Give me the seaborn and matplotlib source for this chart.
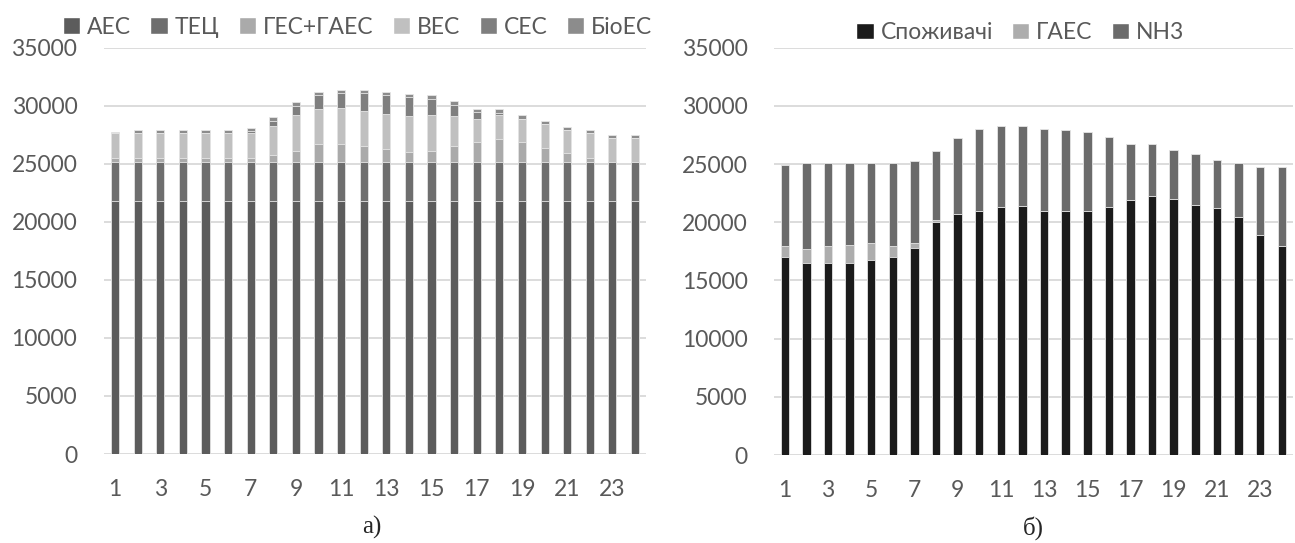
import numpy as np
import pandas as pd
import matplotlib
matplotlib.use("Agg")
import matplotlib.pyplot as plt
from matplotlib.patches import Patch
import seaborn as sns

# ==========================================
# DATA
# ==========================================
hours = list(range(1, 25))

# a) generation
aes = [21800] * 24
tec = [3400] * 24
ges = [350, 350, 350, 350, 350, 350, 350, 600, 950, 1490, 1550, 1380,
       1090, 860, 920, 1380, 1690, 1980, 1690, 1200, 720, 350, 0, 0]
wes = [2100, 2070, 2070, 2070, 2070, 2070, 2100, 2500, 3070, 3010, 3070, 3010,
       3010, 3070, 3100, 2550, 2010, 2040, 2010, 2040, 2040, 2100, 2010, 2010]
ses = [0, 0, 0, 0, 0, 0, 150, 420, 790, 1200, 1280, 1510,
       1610, 1610, 1410, 980, 545, 200, 0, 0, 0, 0, 0, 0]
bio = [90, 290, 290, 290, 290, 290, 310, 300, 300, 290, 300, 300,
       290, 260, 290, 290, 260, 290, 290, 230, 230, 260, 260, 260]

# б) consumption
consumers = [17000, 16500, 16500, 16500, 16800, 17000, 17800, 20000, 20700, 21000, 21300, 21400,
             21000, 21000, 21000, 21300, 21900, 22300, 22000, 21450, 21200, 20500, 18950, 18000]
gaes = [1000, 1250, 1430, 1510, 1430, 1000, 430, 230, 0, 0, 0, 0,
        0, 0, 0, 0, 0, 0, 0, 0, 0, 0, 0, 0]
totals_b = [24900, 25100, 25100, 25100, 25100, 25100, 25300, 26100, 27250, 28050, 28250, 28250,
            28050, 27900, 27800, 27350, 26700, 26700, 26250, 25850, 25350, 25100, 24750, 24750]
nh3 = [t - c - g for t, c, g in zip(totals_b, consumers, gaes)]

left_names = ['АЕС', 'ТЕЦ', 'ГЕС+ГАЕС', 'ВЕС', 'СЕС', 'БіоЕС']
left_colors = ['#5c5c5c', '#6e6e6e', '#aaaaaa', '#c0c0c0', '#7f7f7f', '#8c8c8c']
right_names = ['Споживачі', 'ГАЕС', 'NH3']
right_colors = ['#1b1b1b', '#adadad', '#6b6b6b']

# ==========================================
# PLOT
# ==========================================
sns.set_style("white")
plt.rcParams['font.family'] = ['Lato', 'DejaVu Sans']

fig = plt.figure(figsize=(12.95, 5.43), dpi=100)
ax1 = fig.add_axes([0.0801, 0.1639, 0.419, 0.748])
ax2 = fig.add_axes([0.5977, 0.1620, 0.4004, 0.750])


def stacked(ax, series, colors, width):
    df = pd.DataFrame(np.array(series).T, index=hours)
    cum = df.cumsum(axis=1)
    # draw from the top of the stack down so lower parts cover upper ones
    for i in reversed(range(len(series))):
        sns.barplot(x=hours, y=cum[i].values, color=colors[i], saturation=1,
                    width=width, edgecolor='#e6e6e6', linewidth=0.6, ax=ax)


def style(ax):
    ax.set_ylim(0, 35000)
    ax.set_yticks(range(0, 35001, 5000))
    ax.set_xticks(range(0, 24, 2))
    ax.set_xticklabels([str(h) for h in hours[::2]])
    ax.set_xlim(-0.5, 23.5)
    ax.grid(axis='y', color='#d9d9d9', linewidth=1.3)
    ax.set_axisbelow(True)
    for s in ax.spines.values():
        s.set_visible(False)
    ax.tick_params(axis='both', length=0, labelsize=16.5, colors='#595959')
    ax.tick_params(axis='y', pad=19)
    ax.tick_params(axis='x', pad=18)
    ax.set_xlabel('')
    ax.set_ylabel('')


stacked(ax1, [aes, tec, ges, wes, ses, bio], left_colors, 0.36)
style(ax1)
stacked(ax2, [consumers, gaes, nh3], right_colors, 0.39)
style(ax2)

h1 = [Patch(facecolor=c, label=n) for n, c in zip(left_names, left_colors)]
fig.legend(handles=h1, loc='center', bbox_to_anchor=(0.276, 0.95), ncol=6, frameon=False,
           fontsize=16.5, handlelength=0.75, handleheight=0.75, handletextpad=0.3,
           columnspacing=0.85, labelcolor='#595959')
h2 = [Patch(facecolor=c, label=n) for n, c in zip(right_names, right_colors)]
fig.legend(handles=h2, loc='center', bbox_to_anchor=(0.788, 0.94), ncol=3, frameon=False,
           fontsize=16.5, handlelength=0.75, handleheight=0.75, handletextpad=0.3,
           columnspacing=0.85, labelcolor='#595959')

fig.text(0.287, 0.028, 'а)', ha='center', va='center', fontsize=18,
         family=['Liberation Serif', 'DejaVu Serif'])
fig.text(0.798, 0.028, 'б)', ha='center', va='center', fontsize=18,
         family=['Liberation Serif', 'DejaVu Serif'])

fig.savefig('out.png', dpi=100)
